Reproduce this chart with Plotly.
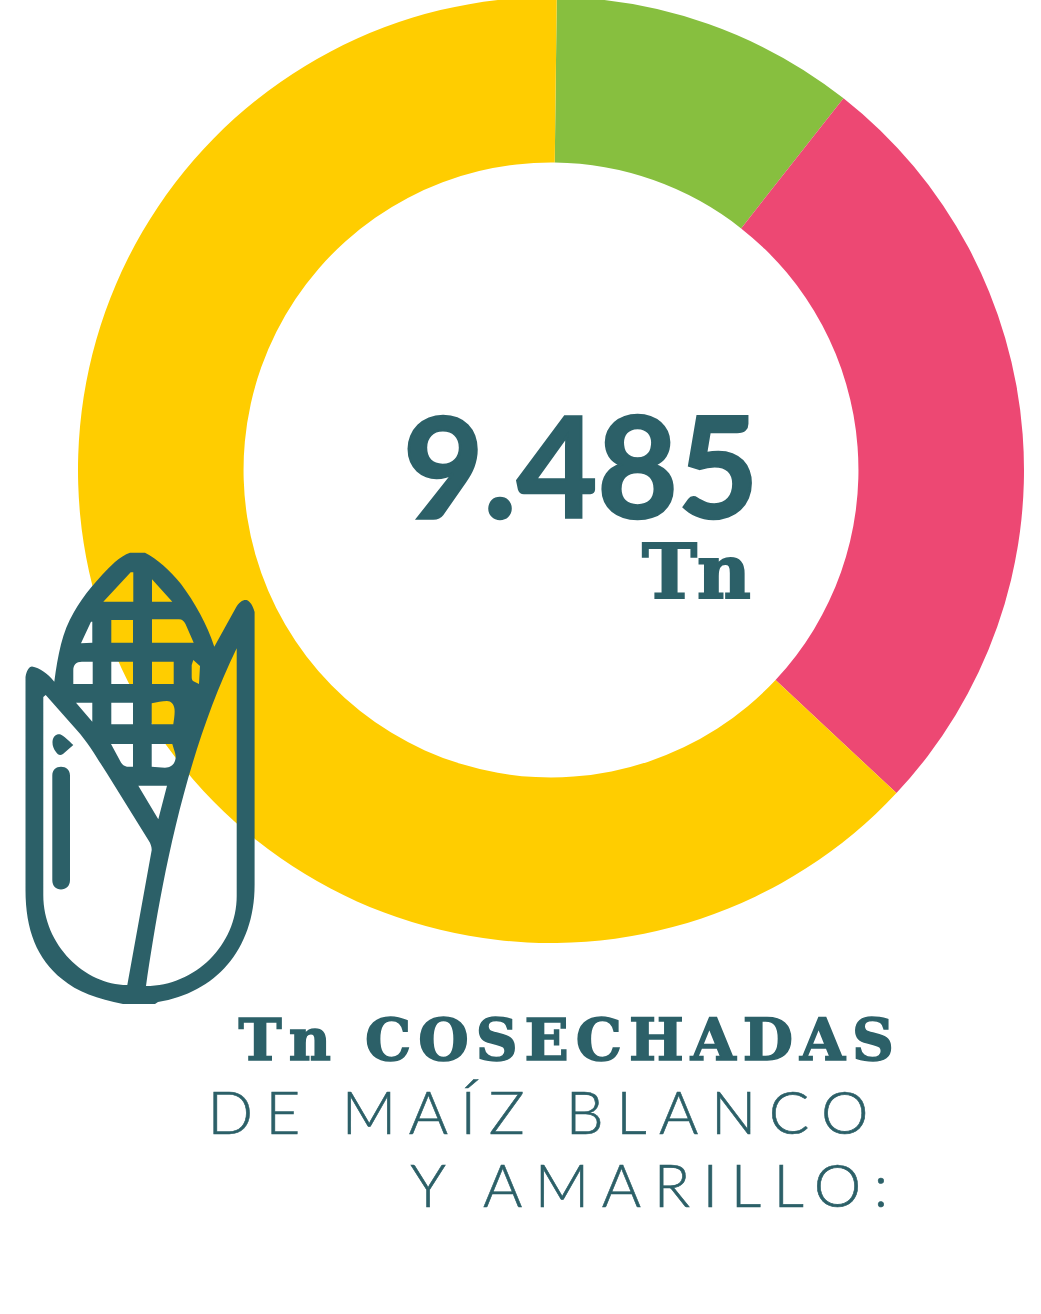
import re
import plotly.graph_objects as go

# ---- data ----
segment_labels = ["Verde", "Rosa", "Amarillo"]
segment_values = [988, 2500, 5997]
segment_colors = ["#87BF3F", "#ED4873", "#FFCD00"]
total_label = "9.485"
unit_label = "Tn"
caption_lines = ["Tn COSECHADAS", "DE MAÍZ BLANCO", "Y AMARILLO:"]

TEAL = "#2C6068"
W, H = 1041, 1317   # page is shifted up 3px so the ring is cropped at its top edge
OFF = 3


def px(x):
    return x / W


def py(y):
    return 1 - (y + OFF) / H


def to_paper(path):
    tokens = re.findall(r"[A-Za-z]|-?\d+\.?\d*", path)
    out, is_x = [], True
    for t in tokens:
        if t.isalpha():
            out.append(t)
            is_x = True
        else:
            out.append(f"{px(float(t)):.5f}" if is_x else f"{py(float(t)):.5f}")
            is_x = not is_x
    return " ".join(out)


# corn icon (decoration, page pixel coordinates)
silhouette = (
    "M130 552.7 L145 552.7 C157 559 170 570 181 584 C195 603 207 624 214.3 646.7 "
    "L236 607.5 C239 602 243 599.5 246.5 600 C250 601 253 606 254.6 612 "
    "L254.6 885 C254.6 950 215 993 158 1002 L155 1004 L123 1004 C98 999 77 992 62 979 "
    "C37 959 25.5 930 25.5 890 L25.5 677 C26.5 671 29 666.5 32 666.5 C40 668 47 673 54.3 681.7 "
    "C58 655 62 632 74 612 C83 596 98 578 115 562 C120 557.5 125 554.5 130 552.7 Z"
)
right_husk = (
    "M236.7 648.3 L236.7 896 C236.7 945 195 986 146 986 C158 905 180 765 236.7 648.3 Z"
)
left_husk = (
    "M43.3 697 L45.7 695 L76.7 730 C90 745 98 760 106.7 773 L148.3 840 C151 844 151.7 847 151.7 850 "
    "L127.3 985 C85 985 43.3 945 43.3 895 Z"
)
drop = "M52.7 740 C54 735 57 734 60 734.3 C64 736 69 741 73.3 745 L63 754 C60 756 58 755 56 752 C53 748 52 744 52.7 740 Z"
pill = "M52.3 775.5 C52.3 770 56 766.7 61 766.7 C66 766.7 70 770 70 775.5 L70 880 C70 886 66 889.5 61 889.5 C56 889.5 52.3 886 52.3 880 Z"
cells = [
    "M103.3 601.7 L130.7 572.3 L133.3 572.3 L133.3 601.7 Z",
    "M152 579.3 L172.3 601.7 L152 601.7 Z",
    "M91 621.7 L92.3 621.7 L92.3 642.7 L81 643.3 Z",
    "M111.3 620 L133 620 L133 642.7 L111.3 642.7 Z",
    "M152 619.3 L179 619.3 C182 619.3 184 621 185.5 624 L193.7 642.7 L152 642.7 Z",
    "M92.7 661.7 L82 661.7 C76 661.7 73.3 665 73.3 670 L73.3 684 L92.7 684 Z",
    "M111.3 661.7 L133 661.7 L133 684 L111.3 684 Z",
    "M152 661.7 L173.7 661.7 L173.7 684 L152 684 Z",
    "M193.3 660 L200 666 L199 684 L193 681 C191.7 680 191.7 678 191.7 676 L191.7 665 Z",
    "M76 702.7 L92.3 702.7 L92.3 721.7 Z",
    "M111.3 702.7 L133 702.7 L133 724.3 L111.3 724.3 Z",
    "M151.7 703.3 C157 702 162 701 167 701 C171 701 174 704 174.5 709 C175 714 174 719 173.3 724.3 L151.7 724.3 Z",
    "M111 744 L133 744 L133 766.7 L127 766.7 C124 766 122.5 765 121 762.5 Z",
    "M151.7 744 L172.3 744 C174 750 175.5 753 175.7 757 C175.5 763 172 767.5 165 767.7 C160 767.5 156 767 151.7 766.7 Z",
    "M138.3 785.7 L167 785.7 L158.3 819.3 Z",
]
icon_paths = [silhouette, right_husk, left_husk, drop, pill] + cells

fig = go.Figure(
    go.Pie(
        labels=segment_labels,
        values=segment_values,
        marker=dict(colors=segment_colors, line=dict(width=0)),
        hole=0.65,
        sort=False,
        direction="clockwise",
        rotation=0.7,
        textinfo="none",
        hoverinfo="label+value",
        showlegend=False,
        domain=dict(x=[px(78), px(1024)], y=[1 - 946 / H, 1]),
    )
)

fig.update_layout(
    width=W,
    height=H,
    margin=dict(l=0, r=0, t=0, b=0),
    paper_bgcolor="white",
    showlegend=False,
    shapes=[
        dict(
            type="path",
            xref="paper",
            yref="paper",
            path=to_paper(" ".join(icon_paths)),
            fillcolor=TEAL,
            line=dict(width=0),
            fillrule="evenodd",
            layer="above",
        )
    ],
)


def note(text, cx, cy, family, size, weight):
    fig.add_annotation(
        text=text,
        x=px(cx),
        y=py(cy),
        xref="paper",
        yref="paper",
        xanchor="center",
        yanchor="middle",
        showarrow=False,
        font=dict(family=family, size=size, color=TEAL, weight=weight),
    )


note(total_label, 581, 464, "Lato", 139, 700)
note(unit_label, 696, 572, "DejaVu Serif", 74, 700)
note(caption_lines[0], 569.6, 1040, "DejaVu Serif", 58, 700)
note(caption_lines[1], 544, 1111, "Lato", 60, 300)
note(caption_lines[2], 655.5, 1184, "Lato", 60, 300)

post = """
document.documentElement.style.overflow='hidden';
document.body.style.margin='0';
document.body.style.marginTop='-3px';
var sp={'Tn COSECHADAS':[7,1.6],'DE MAÍZ BLANCO':[12.5,0.6],'Y AMARILLO:':[12.5,0.6],'Tn':[0,2],'9.485':[0,2.5]};
document.querySelectorAll('.annotation-text').forEach(function(t){
  var s=sp[t.textContent];
  if(s){
    t.style.letterSpacing=s[0]+'px';
    t.style.stroke='#2C6068';
    t.style.strokeWidth=s[1]+'px';
  }
});
"""
fig.write_html("out.html", post_script=post, config=dict(displayModeBar=False))
